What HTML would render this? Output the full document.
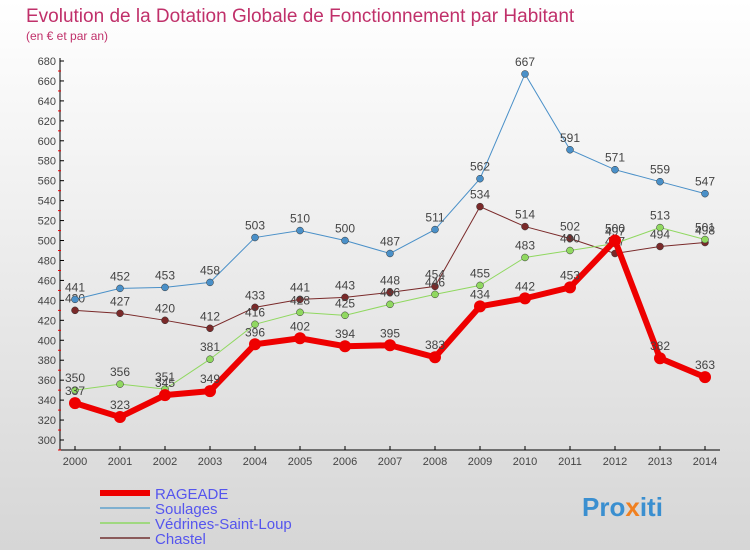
<!DOCTYPE html>
<html><head><meta charset="utf-8"><style>
body{margin:0}
#c{width:750px;height:550px;position:relative;background:linear-gradient(#ffffff,#d6d6d6);font-family:"Liberation Sans",sans-serif;overflow:hidden}
</style></head><body>
<div id="c">
<svg id="s" width="750" height="550" xmlns="http://www.w3.org/2000/svg">
<text x="26" y="22" font-size="19" fill="#c0306a">Evolution de la Dotation Globale de Fonctionnement par Habitant</text>
<text x="26" y="40" font-size="12" fill="#c0306a">(en € et par an)</text>
<g id="axes"></g><g id="series"></g><g id="legend"></g>
<text x="582" y="516" font-size="26" font-weight="bold" fill="#3a8fd0">Pro<tspan fill="#f08020">x</tspan>iti</text>
</svg>
</div>
<script>
const years=[2000,2001,2002,2003,2004,2005,2006,2007,2008,2009,2010,2011,2012,2013,2014];
const yTicks=[300,320,340,360,380,400,420,440,460,480,500,520,540,560,580,600,620,640,660,680];
const rageade=[337,323,345,349,396,402,394,395,383,434,442,453,500,382,363];
const soulages=[441,452,453,458,503,510,500,487,511,562,667,591,571,559,547];
const vedrines=[350,356,351,381,416,428,425,436,446,455,483,490,497,513,501];
const chastel=[430,427,420,412,433,441,443,448,454,534,514,502,487,494,498];
const NS="http://www.w3.org/2000/svg";
const X=i=>75+i*45, Y=v=>440-(v-300)*(379/380);
function el(t,a,p){const e=document.createElementNS(NS,t);for(const k in a)e.setAttribute(k,a[k]);p.appendChild(e);return e;}
const ax=document.getElementById('axes');
const yl=el('line',{x1:60,y1:58,x2:60,y2:450,stroke:'#000'},ax);


const xl=el('line',{x1:60,y1:450,x2:720,y2:450,stroke:'#000'},ax);


yTicks.forEach(v=>{
 el('line',{x1:60,y1:Y(v),x2:64,y2:Y(v),stroke:'#000'},ax);
 el('line',{x1:58,y1:Y(v)+10,x2:61,y2:Y(v)+10,stroke:'#e00'},ax);
 const t=el('text',{x:56,y:Y(v)+4,'font-size':11,'text-anchor':'end',fill:'#444'},ax);t.textContent=v;
 
 
});
years.forEach((y,i)=>{
 el('line',{x1:X(i),y1:446,x2:X(i),y2:450,stroke:'#000'},ax);
 const t=el('text',{x:X(i),y:465,'font-size':11,'text-anchor':'middle',fill:'#444'},ax);t.textContent=y;
 
 
});
const sg=document.getElementById('series');
function series(data,color,w,r,name){
 const g=el('g',{},sg);
 
 
 const pl=el('polyline',{points:data.map((v,i)=>X(i)+','+Y(v)).join(' '),fill:'none',stroke:color,'stroke-width':w},g);
 
 
 data.forEach((v,i)=>{
  const c=el('circle',{cx:X(i),cy:Y(v),r:r,fill:color,stroke:'#333','stroke-width':r>5?0:0.5},g);
  
  
  const t=el('text',{x:X(i),y:Y(v)-8,'font-size':12,'text-anchor':'middle',fill:'#444'},g);t.textContent=v;
  
  
 });
}
series(chastel,'#7a2a2a',1,3.5,'chastel');
series(vedrines,'#90d860',1,3.5,'vedrines');
series(soulages,'#4a90c8',1,3.5,'soulages');
series(rageade,'#ee0000',6,6,'rageade');
const lg=document.getElementById('legend');
[['RAGEADE','#ee0000',6],['Soulages','#7fb0d0',2],['Védrines-Saint-Loup','#a0d880',2],['Chastel','#8a5a5a',2]].forEach((d,i)=>{
 const y=493+i*15;
 const l=el('line',{x1:100,y1:y,x2:150,y2:y,stroke:d[1],'stroke-width':d[2]},lg);
 
 
 const t=el('text',{x:155,y:y+6,'font-size':15,fill:'#5555ee'},lg);t.textContent=d[0];
 
 
});
</script>
</body></html>
